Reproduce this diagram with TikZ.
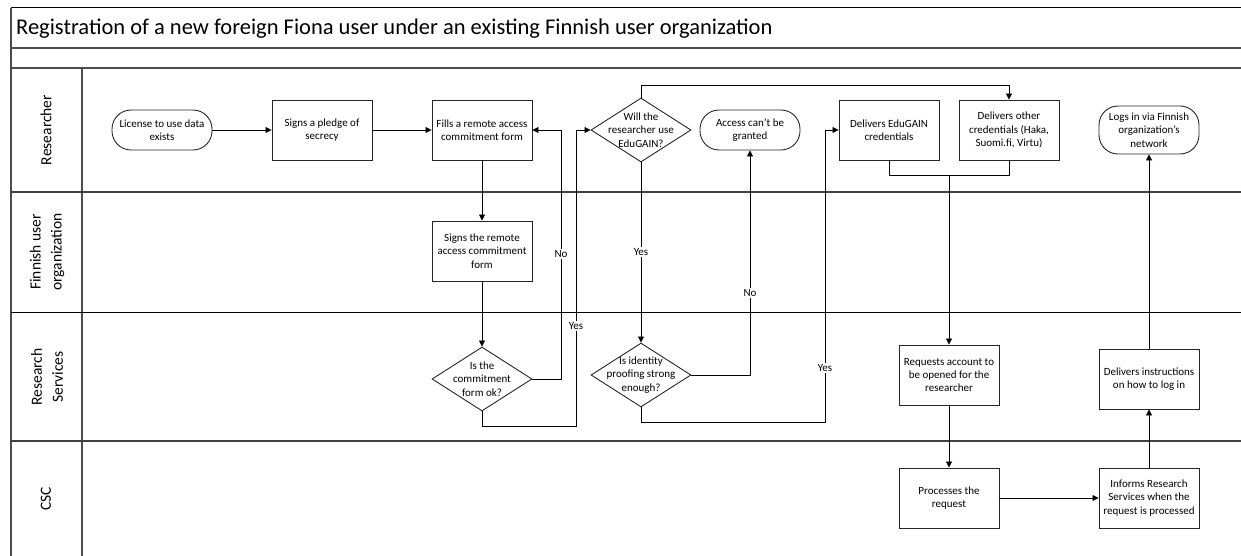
\documentclass[tikz,border=0pt]{standalone}
\usepackage{fontspec}
\setmainfont{Carlito}
\usetikzlibrary{arrows.meta,shapes.geometric}
\tikzset{
  frameline/.style={draw=black!70, line width=1.3pt},
  laneline/.style={draw=black!75, line width=1.1pt},
  txt/.style={align=center, font=\fontsize{11}{13.3}\selectfont},
  box/.style={txt, draw=black!85, line width=0.9pt, minimum width=100pt, minimum height=60pt, inner sep=0pt},
  term/.style={txt, draw=black!85, line width=0.9pt, rounded corners=19pt, minimum width=100pt, minimum height=40pt, inner sep=0pt},
  dia/.style={draw=black!85, line width=0.9pt, diamond, minimum width=100pt, minimum height=64pt, inner sep=0pt},
  dtext/.style={txt, inner sep=0pt},
  flow/.style={draw=black, line width=0.8pt, -{Triangle[length=6pt,width=6pt]}},
  plain/.style={draw=black, line width=0.8pt},
  lbl/.style={fill=white, inner sep=1pt, font=\fontsize{11}{13}\selectfont},
  lanetxt/.style={rotate=90, align=center, font=\fontsize{15.5}{21}\selectfont}
}
\begin{document}
\begin{tikzpicture}[x=1pt,y=-1pt]
\useasboundingbox (0,0) rectangle (1241,556);
% frame
\draw[draw=black, line width=1pt] (11,8) -- (1241,8);
\draw[frameline] (11,48) -- (1241,48);
\draw[frameline] (11,68) -- (1241,68);
\draw[frameline] (11,8) -- (11,556);
\draw[frameline] (82,68) -- (82,556);
\draw[laneline] (11,192) -- (1241,192);
\draw[draw=black, line width=0.9pt] (11,312) -- (1241,312);
\draw[laneline] (11,441) -- (1241,441);
\node[anchor=west, font=\fontsize{22.5}{26}\selectfont, inner sep=0pt] (title) at (16,29) {Registration of a new foreign Fiona user under an existing Finnish user organization};
% lane labels
\node[lanetxt] (lr) at (46,130) {Researcher};
\node[lanetxt] (lf) at (47,252) {Finnish user\\organization};
\node[lanetxt] (ls) at (47,377) {Research\\Services};
\node[lanetxt] (lc) at (46,499) {CSC};
% nodes
\node[term] (lic) at (162,130) {License to use data\\exists};
\node[box] (pledge) at (322,130) {Signs a pledge of\\secrecy};
\node[box] (fills) at (482,130) {Fills a remote access\\commitment form};
\node[dia] (edu) at (641,130) {};
\node[dtext] (edut) at (641,130) {Will the\\researcher use\\EduGAIN?};
\node[term] (deny) at (750,130) {Access can't be\\granted};
\node[box] (dedu) at (889,130) {Delivers EduGAIN\\credentials};
\node[box] (other) at (1009,130) {Delivers other\\credentials (Haka,\\Suomi.fi, Virtu)};
\node[term, minimum height=48pt] (login) at (1149,130) {Logs in via Finnish\\organization’s\\network};
\node[box] (signs) at (482,251) {Signs the remote\\access commitment\\form};
\node[dia] (chk) at (482,379) {};
\node[dtext] (chkt) at (482,379) {Is the\\commitment\\form ok?};
\node[dia] (idp) at (641,375) {};
\node[dtext] (idpt) at (641,375) {Is identity\\proofing strong\\enough?};
\node[box] (req) at (949,375) {Requests account to\\be opened for the\\researcher};
\node[box] (instr) at (1149,379) {Delivers instructions\\on how to log in};
\node[box] (proc) at (949,498) {Processes the\\request};
\node[box] (inf) at (1149,498) {Informs Research\\Services when the\\request is processed};
% connectors
\coordinate (noA) at (561,379);
\coordinate (noB) at (561,130);
\coordinate (yesA) at (482,426);
\coordinate (yesB) at (576,426);
\coordinate (yesC) at (576,130);
\coordinate (topA) at (641,85);
\coordinate (topB) at (1009,85);
\coordinate (noC) at (750,375);
\coordinate (y2A) at (641,422);
\coordinate (y2B) at (825,422);
\coordinate (y2C) at (825,130);
\coordinate (jA) at (889,175);
\coordinate (jB) at (1009,175);
\coordinate (jM) at (949,175);
\draw[flow] (lic) -- (pledge);
\draw[flow] (pledge) -- (fills);
\draw[flow] (fills) -- (signs);
\draw[flow] (signs) -- (chk);
\draw[flow] (chk.east) -- (noA) -- (noB) -- (fills.east);
\node[lbl] (lno1) at (561,254) {No};
\draw[flow] (chk.south) -- (yesA) -- (yesB) -- (yesC) -- (edu.west);
\node[lbl] (lyes1) at (576,326) {Yes};
\draw[flow] (edu.north) -- (topA) -- (topB) -- (other.north);
\draw[flow] (edu.south) -- (idp.north);
\node[lbl] (lyes2) at (641,252) {Yes};
\draw[flow] (idp.east) -- (noC) -- (deny.south);
\node[lbl] (lno2) at (750,293) {No};
\draw[flow] (idp.south) -- (y2A) -- (y2B) -- (y2C) -- (dedu.west);
\node[lbl] (lyes3) at (825,368) {Yes};
\draw[plain] (dedu.south) -- (jA) -- (jB) -- (other.south);
\draw[flow] (jM) -- (req.north);
\draw[flow] (req) -- (proc);
\draw[flow] (proc) -- (inf);
\draw[flow] (inf) -- (instr);
\draw[flow] (instr) -- (login);
\end{tikzpicture}
\end{document}
